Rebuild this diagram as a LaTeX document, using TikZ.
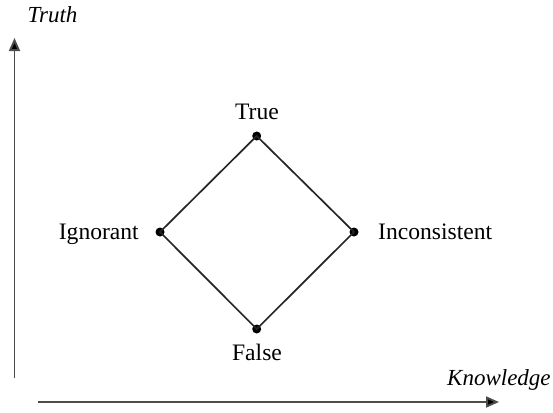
\documentclass[tikz,border=0pt]{standalone}
\usepackage{fontspec}
\setmainfont{Liberation Serif}
\usetikzlibrary{arrows.meta}
\begin{document}
\begin{tikzpicture}[x=1pt,y=-1pt,
  lbl/.style={inner sep=0pt,font=\fontsize{23.6}{28}\selectfont},
  axlbl/.style={inner sep=0pt,font=\fontsize{23}{27}\selectfont\itshape},
  axisline/.style={line width=1.9pt,draw=black!70,-{Triangle[length=13pt,width=11pt,fill=black]}},
  edge/.style={line width=1.7pt,draw=black!85},
  dot/.style={circle,fill=black,inner sep=0pt,minimum size=9pt}]
\useasboundingbox (0,0) rectangle (553,412);
% axes
\coordinate (yo) at (14.5,378);
\coordinate (yt) at (14.5,38);
\coordinate (xo) at (38,402);
\coordinate (xt) at (499,402);
\draw[axisline] (yo) -- (yt);
\draw[axisline] (xo) -- (xt);
\node[axlbl,anchor=base] (truth) at (52.5,22.5) {Truth};
\node[axlbl,anchor=base west] (know) at (447,385) {Knowledge};
% lattice
\node[dot] (T) at (256.7,136) {};
\node[dot] (I) at (160,232) {};
\node[dot] (C) at (354,232) {};
\node[dot] (F) at (256.7,329) {};
\draw[edge] (T.center) -- (C.center) -- (F.center) -- (I.center) -- cycle;
\node[lbl,anchor=base] (tl) at (257,119) {True};
\node[lbl,anchor=base] (fl) at (257,360) {False};
\node[lbl,anchor=base east] (il) at (139,239) {Ignorant};
\node[lbl,anchor=base west] (cl) at (378,239) {Inconsistent};
\end{tikzpicture}
\end{document}
